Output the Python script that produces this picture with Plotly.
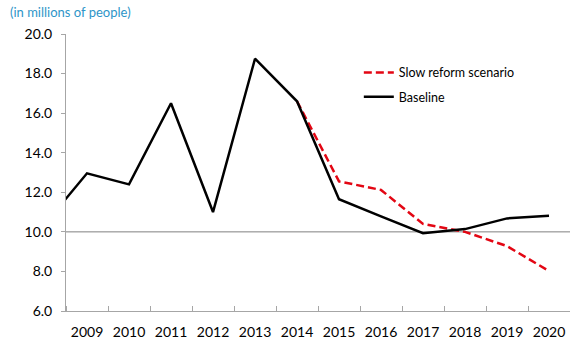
import plotly.graph_objects as go

years = [2008, 2009, 2010, 2011, 2012, 2013, 2014, 2015, 2016, 2017, 2018, 2019, 2020]
baseline = [10.4, 12.96, 12.4, 16.5, 11.0, 18.75, 16.6, 11.65, 10.78, 9.93, 10.14, 10.68, 10.82]
slow_years = [2014, 2015, 2016, 2017, 2018, 2019, 2020]
slow_reform = [16.6, 12.55, 12.12, 10.4, 10.0, 9.28, 8.02]
tick_years = list(range(2009, 2021))
y_ticks = [6, 8, 10, 12, 14, 16, 18, 20]

FONT = "Lato"

fig = go.Figure()
fig.add_trace(go.Scatter(
    x=slow_years, y=slow_reform, mode="lines", name="Slow reform scenario",
    line=dict(color="#E30613", width=2.5, dash="8px,4px"), legendgroup="a"))
fig.add_trace(go.Scatter(
    x=years, y=baseline, mode="lines", name="Baseline",
    line=dict(color="#000000", width=2.5), legendgroup="b"))

fig.add_shape(type="line", xref="paper", yref="y", x0=0, x1=1, y0=10, y1=10,
              line=dict(color="#808080", width=1), layer="below")

fig.update_layout(
    width=570, height=337,
    margin=dict(l=66, r=0, t=34, b=26, autoexpand=False),
    paper_bgcolor="white", plot_bgcolor="white",
    font=dict(family=FONT, size=14, color="#000000"),
    showlegend=True,
    legend=dict(x=0.581, y=0.914, xanchor="left", yanchor="top",
                font=dict(family=FONT, size=12.5), bgcolor="rgba(0,0,0,0)",
                tracegroupgap=5),
    annotations=[dict(text="(in millions of people)", xref="paper", yref="paper",
                      x=-58/504, y=1 + 22/277, xanchor="left", yanchor="middle",
                      showarrow=False, font=dict(family=FONT, size=13, color="#2E95C8"))],
)
fig.update_xaxes(
    range=[2008.5, 2020.5], tickvals=tick_years, ticktext=[str(y) for y in tick_years],
    ticks="", showgrid=False, zeroline=False, showline=True, linecolor="#A6A6A6", linewidth=1,
    tickfont=dict(family=FONT, size=14), automargin=False, ticklabelstandoff=8,
    minor=dict(ticks="inside", tick0=2008.5, dtick=1, ticklen=5, tickcolor="#A6A6A6", showgrid=False),
)
fig.update_yaxes(
    range=[6, 20], tickvals=y_ticks, ticktext=[f"{v:.1f}" for v in y_ticks],
    ticks="outside", ticklen=4, tickcolor="#A6A6A6", showgrid=False, zeroline=False,
    showline=True, linecolor="#A6A6A6", linewidth=1, tickfont=dict(family=FONT, size=14),
    automargin=False, ticklabelstandoff=6,
)

fig.write_html("out.html", config={"displayModeBar": False},
               post_script="document.body.style.margin='0';document.body.style.overflow='hidden';")
